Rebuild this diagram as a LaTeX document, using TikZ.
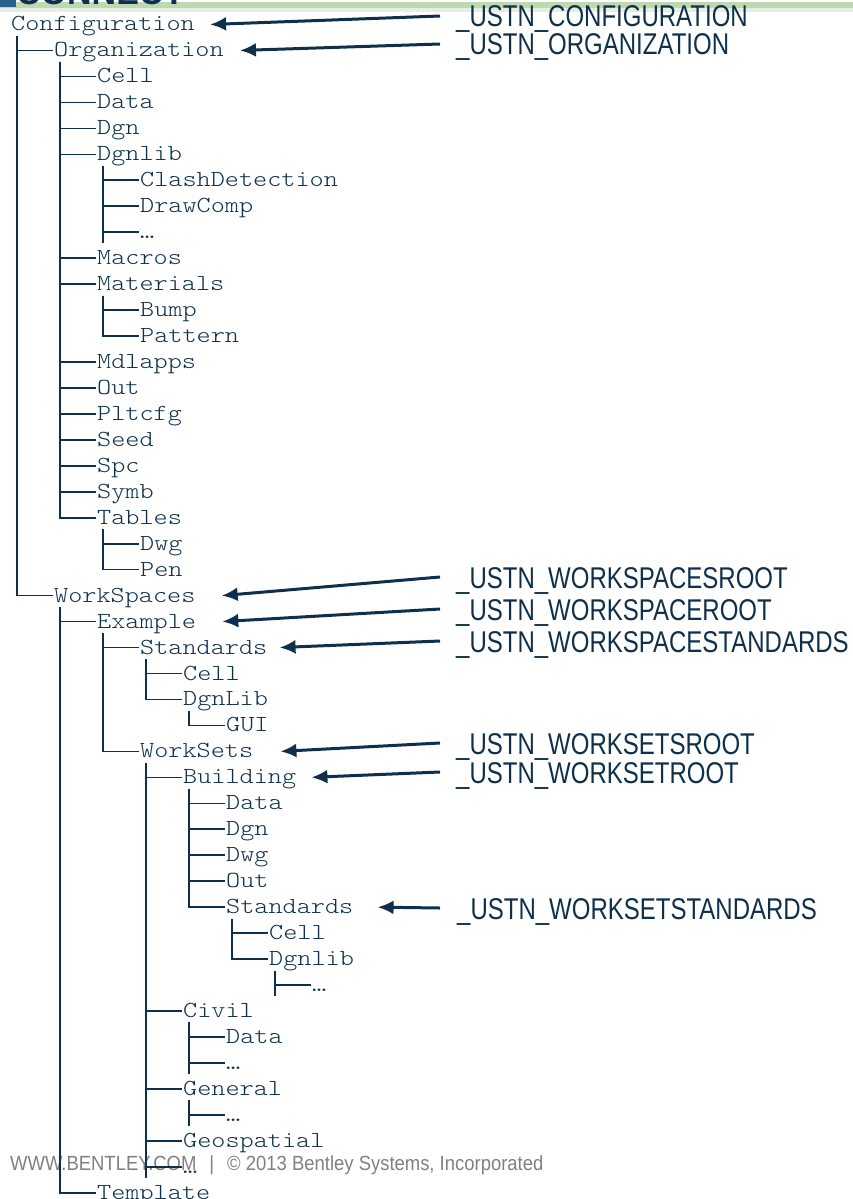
\documentclass[tikz,border=0pt]{standalone}
\usepackage{fontspec}
\usetikzlibrary{arrows.meta}

\newfontfamily\treefont[FakeStretch=1.17]{Latin Modern Mono Light}
\newfontfamily\varfont[FakeStretch=0.8]{Liberation Sans}
\newfontfamily\footfont[FakeStretch=0.9]{Liberation Sans}
\newfontfamily\headfont{Liberation Sans}

\definecolor{navy}{RGB}{14,48,76}
\definecolor{headblue}{RGB}{38,98,142}
\definecolor{headgreen}{RGB}{190,216,178}
\definecolor{footgray}{RGB}{128,128,128}

\begin{document}
\begin{tikzpicture}[
    x=1pt, y=-1pt,
    dir/.style={
        anchor=base west,
        inner sep=0pt,
        text=navy,
        text height=13pt,
        text depth=0pt,
        font=\treefont\fontsize{23pt}{26pt}\selectfont
    },
    var/.style={
        anchor=base west,
        inner sep=0pt,
        text=navy,
        text height=22pt,
        text depth=0pt,
        font=\varfont\fontsize{30pt}{32pt}\selectfont
    },
    branch/.style={draw=navy, line width=1.6pt},
    arrow/.style={-{Latex[length=16pt,width=14pt]}, draw=navy, line width=3pt},
]
\useasboundingbox (0,0) rectangle (853,1199);

% === HEADER (cut off) ===
\begin{scope}
\clip (0,0) rectangle (853,1199);
\fill[headgreen!40] (0,4) rectangle (853,12);
\fill[headgreen] (0,2) rectangle (853,8);
\fill[headblue] (0,0) rectangle (16,7);
\node[anchor=base west, inner sep=0pt, text=navy,
      font=\headfont\bfseries\fontsize{34pt}{34pt}\selectfont] (brand) at (16,5) {CONNECT};
\end{scope}

% Footer
\node[anchor=base west, inner sep=0pt, text=footgray,
      font=\footfont\fontsize{20.5pt}{22pt}\selectfont] (foot) at (10,1170)
{WWW.BENTLEY.COM\hspace{13pt}|\hspace{13pt}© 2013 Bentley Systems, Incorporated};

% === TREE ===
\foreach \r/\l/\t in {
    0/0/Configuration, 1/1/Organization, 2/2/Cell, 3/2/Data, 4/2/Dgn,
    5/2/Dgnlib, 6/3/ClashDetection, 7/3/DrawComp, 8/3/…, 9/2/Macros,
    10/2/Materials, 11/3/Bump, 12/3/Pattern, 13/2/Mdlapps, 14/2/Out,
    15/2/Pltcfg, 16/2/Seed, 17/2/Spc, 18/2/Symb, 19/2/Tables,
    20/3/Dwg, 21/3/Pen, 22/1/WorkSpaces, 23/2/Example, 24/3/Standards,
    25/4/Cell, 26/4/DgnLib, 27/5/GUI, 28/3/WorkSets, 29/4/Building,
    30/5/Data, 31/5/Dgn, 32/5/Dwg, 33/5/Out, 34/5/Standards,
    35/6/Cell, 36/6/Dgnlib, 37/7/…, 38/4/Civil, 39/5/Data,
    40/5/…, 41/4/General, 42/5/…, 43/4/Geospatial, 44/4/…,
    45/2/Template} {
    \node[dir] (r\r) at ({11+43*\l},{31+25.96*\r}) {\t};
}

% Branches
\foreach \p/\c in {
    0/1, 0/22,
    1/2, 1/3, 1/4, 1/5, 1/9, 1/10, 1/13, 1/14, 1/15, 1/16, 1/17, 1/18, 1/19,
    5/6, 5/7, 5/8, 10/11, 10/12, 19/20, 19/21,
    22/23, 22/45, 23/24, 23/28, 24/25, 24/26, 26/27,
    28/29, 28/38, 28/41, 28/43, 28/44,
    29/30, 29/31, 29/32, 29/33, 29/34, 34/35, 34/36, 36/37,
    38/39, 38/40, 41/42} {
    \draw[branch] ([xshift=6pt,yshift=-5pt]r\p.base west) |- ([xshift=-1pt]r\c.west);
}
% open ends below the "..." rows
\foreach \p/\c in {5/8, 36/37, 38/40, 41/42, 28/44} {
    \draw[branch] ([xshift=6pt]r\p.base west |- r\c.west) -- ++(0,11);
}

% === VARIABLES ===
\node[var] (vConfig) at (456,27) {\_USTN\_CONFIGURATION};
\node[var] (vOrg) at (456,55) {\_USTN\_ORGANIZATION};
\node[var] (vWsRoots) at (456,588) {\_USTN\_WORKSPACESROOT};
\node[var] (vWsRoot) at (456,620) {\_USTN\_WORKSPACEROOT};
\node[var] (vWsStd) at (456,652) {\_USTN\_WORKSPACESTANDARDS};
\node[var] (vSetsRoot) at (456,754) {\_USTN\_WORKSETSROOT};
\node[var] (vSetRoot) at (456,783) {\_USTN\_WORKSETROOT};
\node[var] (vSetStd) at (457,919) {\_USTN\_WORKSETSTANDARDS};

% Arrows
\draw[arrow] ([xshift=-16pt]vConfig.west) -- ([xshift=15pt]r0.east);
\draw[arrow] ([xshift=-16pt]vOrg.west) -- ([xshift=16pt]r1.east);
\draw[arrow] ([xshift=-16pt]vWsRoots.west) -- ([xshift=26pt]r22.east);
\draw[arrow] ([xshift=-16pt]vWsRoot.west) -- ([xshift=26pt]r23.east);
\draw[arrow] ([xshift=-16pt]vWsStd.west) -- ([xshift=12pt]r24.east);
\draw[arrow] ([xshift=-16pt]vSetsRoot.west) -- ([xshift=27pt]r28.east);
\draw[arrow] ([xshift=-16pt]vSetRoot.west) -- ([xshift=15pt]r29.east);
\draw[arrow] ([xshift=-17pt]vSetStd.west) -- ([xshift=24pt]r34.east);

\end{tikzpicture}
\end{document}
